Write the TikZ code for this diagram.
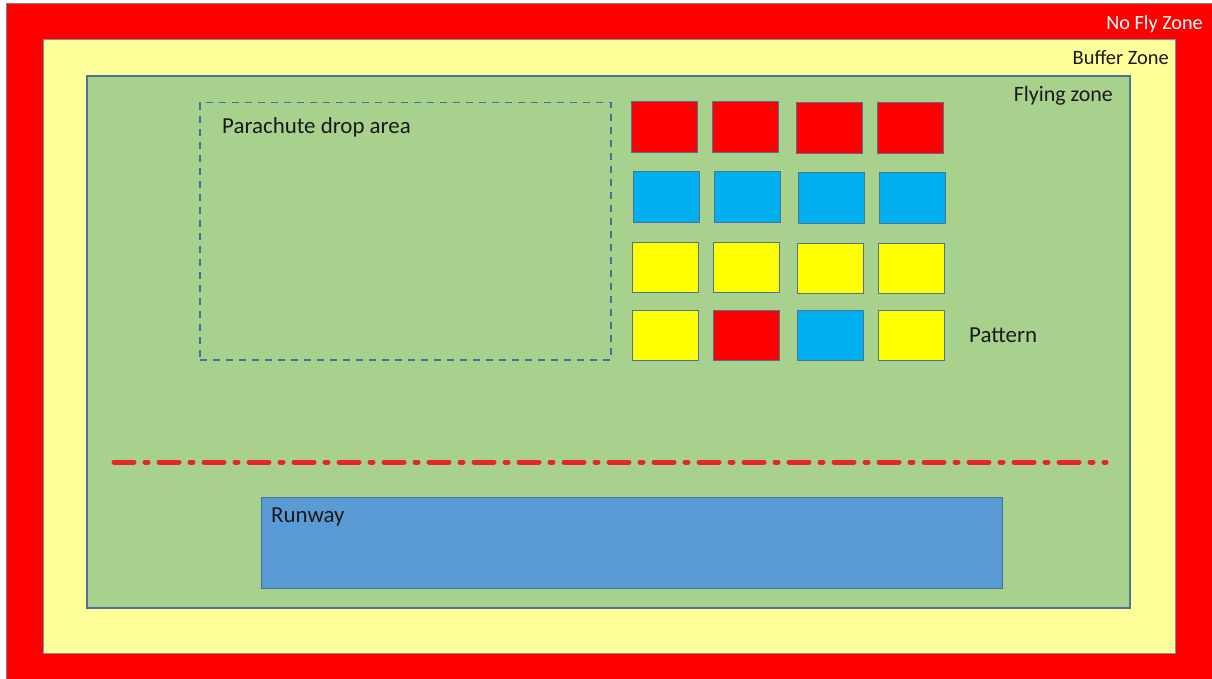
\documentclass[tikz,border=0pt]{standalone}
\usepackage{fontspec}
\setmainfont{Carlito}
\definecolor{nofly}{HTML}{FF0000}
\definecolor{buffer}{HTML}{FFFF99}
\definecolor{flying}{HTML}{A9D18E}
\definecolor{edgeblue}{HTML}{41719C}
\definecolor{edgegray}{HTML}{7F8F9F}
\definecolor{sqred}{HTML}{FF0000}
\definecolor{sqblue}{HTML}{00B0F0}
\definecolor{sqyellow}{HTML}{FFFF00}
\definecolor{runwayblue}{HTML}{5B9BD5}
\definecolor{dashred}{HTML}{E8262A}
\definecolor{txt}{HTML}{1A1A1A}
\tikzset{
  zone/.style={draw=edgegray, line width=1bp, inner sep=0pt, outer sep=0pt, anchor=north west},
  tile/.style={draw=edgeblue!80!gray, line width=1bp, inner sep=0pt, outer sep=0pt, anchor=north west, minimum width=66bp, minimum height=50bp},
  lbl/.style={font=\fontsize{23}{25}\selectfont, text=txt, inner sep=0pt}
}
\begin{document}
\begin{tikzpicture}[x=1bp,y=-1bp]
\useasboundingbox (0,0) rectangle (1212,679);
\fill[white] (0,0) rectangle (1212,679);
% zones
\node[zone, fill=nofly, draw=gray, minimum width=1208bp, minimum height=677bp] (nofly) at (6,4) {};
\node[zone, fill=buffer, minimum width=1132bp, minimum height=613bp] (buffer) at (43,40) {};
\node[zone, fill=flying, draw=edgeblue!80!gray, line width=1.5bp, minimum width=1043bp, minimum height=532bp] (flying) at (87,76) {};
% labels
\node[lbl, font=\fontsize{20.3}{22}\selectfont, text=white, anchor=east] (tnofly) at (1203,24) {No Fly Zone};
\node[lbl, font=\fontsize{20.5}{22}\selectfont, anchor=east] (tbuffer) at (1169,58) {Buffer Zone};
\node[lbl, font=\fontsize{22}{24}\selectfont, anchor=east] (tflying) at (1113,96) {Flying zone};
% parachute drop area
\node[draw=edgeblue, dash pattern=on 7bp off 6bp, line width=1.5bp, inner sep=0pt, anchor=north west, minimum width=411bp, minimum height=257bp] (para) at (199,102) {};
\node[lbl, anchor=west] (tpara) at (222,127) {Parachute drop area};
% tiles
\node[tile, fill=sqred] (r1c1) at (631,102) {};
\node[tile, fill=sqred] (r1c2) at (712,102) {};
\node[tile, fill=sqred] (r1c3) at (796,103) {};
\node[tile, fill=sqred] (r1c4) at (877,103) {};
\node[tile, fill=sqblue] (r2c1) at (633,172) {};
\node[tile, fill=sqblue] (r2c2) at (714,172) {};
\node[tile, fill=sqblue] (r2c3) at (798,173) {};
\node[tile, fill=sqblue] (r2c4) at (879,173) {};
\node[tile, fill=sqyellow] (r3c1) at (632,242) {};
\node[tile, fill=sqyellow] (r3c2) at (713,242) {};
\node[tile, fill=sqyellow] (r3c3) at (797,243) {};
\node[tile, fill=sqyellow] (r3c4) at (878,243) {};
\node[tile, fill=sqyellow] (r4c1) at (632,310) {};
\node[tile, fill=sqred] (r4c2) at (713,310) {};
\node[tile, fill=sqblue] (r4c3) at (797,310) {};
\node[tile, fill=sqyellow] (r4c4) at (878,310) {};
\node[lbl, anchor=west] (tpattern) at (969,335) {Pattern};
% dash-dot line
\coordinate (dl) at (114,462);
\coordinate (dr) at (1106,462);
\draw[dashred, line width=5bp, line cap=round, dash pattern=on 20bp off 11bp on 3bp off 11bp] (dl) -- (dr);
% runway
\node[draw=edgeblue, line width=1.2bp, fill=runwayblue, inner sep=0pt, anchor=north west, minimum width=741bp, minimum height=91bp] (runway) at (261,497) {};
\node[lbl, anchor=west] (trunway) at (271,517) {Runway};
\end{tikzpicture}
\end{document}
